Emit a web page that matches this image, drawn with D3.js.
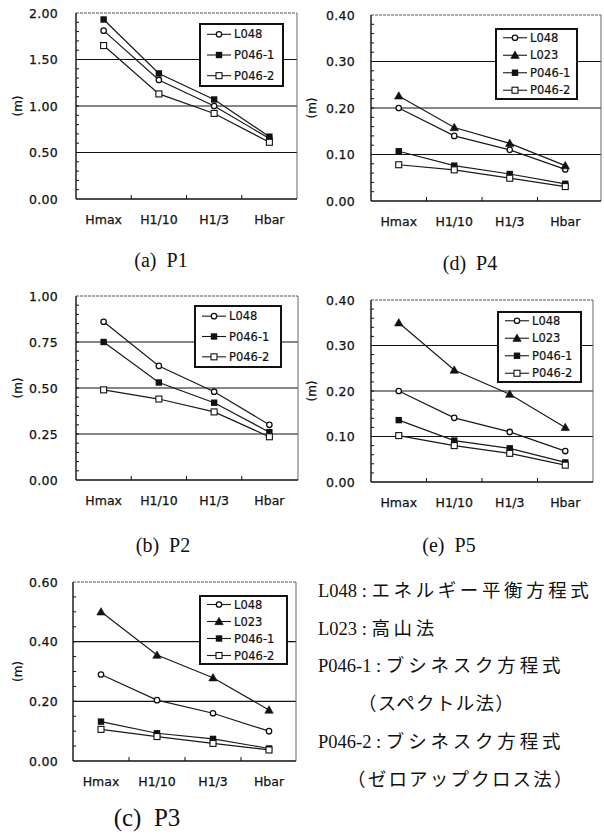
<!DOCTYPE html>
<html>
<head>
<meta charset="utf-8">
<script src="https://cdn.jsdelivr.net/npm/d3@7/dist/d3.min.js"></script>
<style>
  html, body { margin: 0; padding: 0; background: #fff; }
  svg { display: block; }
</style>
</head>
<body>
<svg id="chart" width="604" height="839"></svg>
<script>
// Wave height statistics by method, five points P1–P5
const categories = ["Hmax", "H1/10", "H1/3", "Hbar"];
const seriesNames = ["L048", "L023", "P046-1", "P046-2"];

// P1
const p1L048  = [1.81, 1.28, 1.00, 0.65];
const p1P0461 = [1.93, 1.35, 1.07, 0.67];
const p1P0462 = [1.65, 1.13, 0.92, 0.61];
// P2
const p2L048  = [0.86, 0.62, 0.48, 0.30];
const p2P0461 = [0.75, 0.53, 0.42, 0.26];
const p2P0462 = [0.49, 0.44, 0.37, 0.235];
// P3
const p3L048  = [0.29, 0.204, 0.16, 0.10];
const p3L023  = [0.50, 0.355, 0.279, 0.171];
const p3P0461 = [0.132, 0.093, 0.074, 0.042];
const p3P0462 = [0.106, 0.082, 0.059, 0.037];
// P4
const p4L048  = [0.20, 0.14, 0.11, 0.068];
const p4L023  = [0.226, 0.158, 0.124, 0.076];
const p4P0461 = [0.107, 0.076, 0.058, 0.037];
const p4P0462 = [0.078, 0.067, 0.049, 0.031];
// P5
const p5L048  = [0.20, 0.141, 0.11, 0.068];
const p5L023  = [0.35, 0.246, 0.193, 0.12];
const p5P0461 = [0.136, 0.091, 0.074, 0.043];
const p5P0462 = [0.102, 0.08, 0.063, 0.037];

// y-axis tick values
const ticksP1  = [0, 0.5, 1.0, 1.5, 2.0];
const ticksP2  = [0, 0.25, 0.5, 0.75, 1.0];
const ticksP3  = [0, 0.2, 0.4, 0.6];
const ticksP45 = [0, 0.1, 0.2, 0.3, 0.4];
const minorP1 = 0.1, minorP2 = 0.05, minorP3 = 0.05, minorP45 = 0.02;

const panelTitles = ["(a)  P1", "(b)  P2", "(c)  P3", "(d)  P4", "(e)  P5"];

// explanatory notes: code + description
const noteCodes = ["L048 : ", "L023 : ", "P046-1 : ", "", "P046-2 : ", ""];
const noteTexts = [
  "エネルギー平衡方程式",
  "高山法",
  "ブシネスク方程式",
  "（スペクトル法）",
  "ブシネスク方程式",
  "（ゼロアップクロス法）"
];

const svg = d3.select("#chart");
const sansFont = "'DejaVu Sans', sans-serif";
const serifFont = "'Liberation Serif', 'Noto Sans CJK JP', serif";

const panels = [
  { title: panelTitles[0], ticks: ticksP1, minor: minorP1,
    series: { "L048": p1L048, "P046-1": p1P0461, "P046-2": p1P0462 },
    x0: 76, x1: 297, frameR: 297, top: 13, bottom: 199, labelX: 18,
    titleX: 161, titleY: 267, titleSize: 20,
    legend: { x: 200, y: 24, w: 83, h: 62 } },
  { title: panelTitles[1], ticks: ticksP2, minor: minorP2,
    series: { "L048": p2L048, "P046-1": p2P0461, "P046-2": p2P0462 },
    x0: 76, x1: 297, frameR: 298, top: 296, bottom: 480, labelX: 18,
    titleX: 163, titleY: 552, titleSize: 20,
    legend: { x: 195, y: 306, w: 86, h: 61 } },
  { title: panelTitles[2], ticks: ticksP3, minor: minorP3,
    series: { "L048": p3L048, "L023": p3L023, "P046-1": p3P0461, "P046-2": p3P0462 },
    x0: 73, x1: 297, frameR: 296, top: 582, bottom: 761, labelX: 18,
    titleX: 147, titleY: 826, titleSize: 25,
    legend: { x: 200, y: 596, w: 87, h: 68 } },
  { title: panelTitles[3], ticks: ticksP45, minor: minorP45,
    series: { "L048": p4L048, "L023": p4L023, "P046-1": p4P0461, "P046-2": p4P0462 },
    x0: 371, x1: 593, frameR: 601, top: 15, bottom: 201, labelX: 312,
    titleX: 470, titleY: 270, titleSize: 20,
    legend: { x: 496, y: 29, w: 81, h: 70 } },
  { title: panelTitles[4], ticks: ticksP45, minor: minorP45,
    series: { "L048": p5L048, "L023": p5L023, "P046-1": p5P0461, "P046-2": p5P0462 },
    x0: 371, x1: 593, frameR: 593, top: 300, bottom: 482, labelX: 312,
    titleX: 449, titleY: 552, titleSize: 20,
    legend: { x: 498, y: 312, w: 83, h: 70 } }
];

function drawMarker(g, name, cx, cy) {
  if (name === "L048") {
    g.append("circle").attr("cx", cx).attr("cy", cy).attr("r", 2.7)
      .attr("fill", "#fff").attr("stroke", "#111").attr("stroke-width", 1.3);
  } else if (name === "L023") {
    const s = 4.2;
    g.append("path")
      .attr("d", `M${cx},${cy - s}L${cx + s},${cy + s * 0.75}L${cx - s},${cy + s * 0.75}Z`)
      .attr("fill", "#111").attr("stroke", "#111").attr("stroke-width", 0.6);
  } else if (name === "P046-1") {
    g.append("rect").attr("x", cx - 3.2).attr("y", cy - 3.2).attr("width", 6.4).attr("height", 6.4)
      .attr("fill", "#111");
  } else {
    g.append("rect").attr("x", cx - 3).attr("y", cy - 3).attr("width", 6).attr("height", 6)
      .attr("fill", "#fff").attr("stroke", "#111").attr("stroke-width", 1.1);
  }
}

panels.forEach(p => {
  const g = svg.append("g");
  const yMax = p.ticks[p.ticks.length - 1];
  const x = d3.scaleBand().domain(categories).range([p.x0, p.x1]).padding(0);
  const y = d3.scaleLinear().domain([0, yMax]).range([p.bottom, p.top]);

  // horizontal gridlines at interior major ticks
  g.selectAll(".grid").data(p.ticks.filter(t => t > 0 && t < yMax)).enter()
    .append("line")
    .attr("x1", p.x0).attr("x2", p.frameR)
    .attr("y1", d => y(d)).attr("y2", d => y(d))
    .attr("stroke", "#111").attr("stroke-width", 1.1);

  // frame: light top/right edges, solid left/bottom axes
  g.append("line").attr("x1", p.x0).attr("x2", p.frameR).attr("y1", p.top).attr("y2", p.top)
    .attr("stroke", "#555").attr("stroke-width", 1).attr("stroke-dasharray", "3,1");
  g.append("line").attr("x1", p.frameR).attr("x2", p.frameR).attr("y1", p.top).attr("y2", p.bottom)
    .attr("stroke", "#666").attr("stroke-width", 1);
  g.append("line").attr("x1", p.x0).attr("x2", p.x0).attr("y1", p.top).attr("y2", p.bottom)
    .attr("stroke", "#111").attr("stroke-width", 1.4);
  g.append("line").attr("x1", p.x0).attr("x2", p.frameR).attr("y1", p.bottom).attr("y2", p.bottom)
    .attr("stroke", "#111").attr("stroke-width", 1.4);

  // minor ticks on the value axis
  const nMinor = Math.round(yMax / p.minor);
  g.selectAll(".minor").data(d3.range(1, nMinor)).enter()
    .append("line")
    .attr("x1", p.x0).attr("x2", p.x0 + 3)
    .attr("y1", i => y(i * p.minor)).attr("y2", i => y(i * p.minor))
    .attr("stroke", "#111").attr("stroke-width", 1);

  // category boundary ticks
  g.selectAll(".ctick").data(categories.slice(1)).enter()
    .append("line")
    .attr("x1", d => x(d)).attr("x2", d => x(d))
    .attr("y1", p.bottom).attr("y2", p.bottom - 4)
    .attr("stroke", "#111").attr("stroke-width", 1);

  // value axis labels
  const yAxis = d3.axisLeft(y).tickValues(p.ticks).tickFormat(d3.format(".2f"))
    .tickSize(0).tickPadding(p.x0 > 300 ? 16 : (p.x0 < 75 ? 15 : 18));
  const ya = g.append("g").attr("transform", `translate(${p.x0},0)`).call(yAxis);
  ya.select(".domain").remove();
  ya.selectAll("text").attr("font-family", sansFont).attr("font-size", 12.5)
    .attr("fill", "#111").attr("stroke", "#111").attr("stroke-width", 0.25)
    .attr("letter-spacing", 0.3);

  // category axis labels
  const xAxis = d3.axisBottom(x).tickSize(0).tickPadding(16);
  const xa = g.append("g").attr("transform", `translate(0,${p.bottom})`).call(xAxis);
  xa.select(".domain").remove();
  xa.selectAll("text").attr("font-family", sansFont).attr("font-size", 12.5)
    .attr("fill", "#111").attr("stroke", "#111").attr("stroke-width", 0.25);

  // unit label
  g.append("text")
    .attr("transform", `translate(${p.labelX + 4},${(p.top + p.bottom) / 2}) rotate(-90)`)
    .attr("text-anchor", "middle")
    .attr("font-family", sansFont).attr("font-size", 12).attr("fill", "#111")
    .attr("stroke", "#111").attr("stroke-width", 0.2)
    .text("(m)");

  // series lines and markers
  const line = d3.line().x((d, i) => x(categories[i]) + x.bandwidth() / 2).y(d => y(d));
  const names = seriesNames.filter(n => p.series[n]);
  names.forEach(n => {
    g.append("path").datum(p.series[n]).attr("d", line)
      .attr("fill", "none").attr("stroke", "#1a1a1a").attr("stroke-width", 1.2);
  });
  names.forEach(n => {
    p.series[n].forEach((v, i) => {
      drawMarker(g, n, x(categories[i]) + x.bandwidth() / 2, y(v));
    });
  });

  // legend
  const L = p.legend;
  const lg = g.append("g");
  lg.append("rect").attr("x", L.x).attr("y", L.y).attr("width", L.w).attr("height", L.h)
    .attr("fill", "#fff").attr("stroke", "#111").attr("stroke-width", 2);
  names.forEach((n, i) => {
    const cy = L.y + L.h * (i + 0.5) / names.length;
    lg.append("line").attr("x1", L.x + 7).attr("x2", L.x + 31).attr("y1", cy).attr("y2", cy)
      .attr("stroke", "#1a1a1a").attr("stroke-width", 1.1);
    drawMarker(lg, n, L.x + 19, cy);
    lg.append("text").attr("x", L.x + 34).attr("y", cy).attr("dy", "0.36em")
      .attr("font-family", sansFont).attr("font-size", 11.5).attr("fill", "#111")
      .attr("stroke", "#111").attr("stroke-width", 0.2)
      .text(n);
  });

  // panel caption
  svg.append("text").attr("x", p.titleX).attr("y", p.titleY)
    .attr("text-anchor", "middle")
    .attr("font-family", serifFont).attr("font-size", p.titleSize).attr("fill", "#111")
    .style("white-space", "pre")
    .text(p.title);
});

// method notes
const noteLayout = [
  { x: 318, y: 597, sp: 3.6 },
  { x: 318, y: 635, sp: 3.6 },
  { x: 318, y: 672, sp: 3.8 },
  { x: 358, y: 710, sp: 1.3 },
  { x: 318, y: 748, sp: 3.8 },
  { x: 347, y: 786, sp: 2.2 }
];
noteTexts.forEach((t, i) => {
  const L = noteLayout[i];
  const txt = svg.append("text").attr("x", L.x).attr("y", L.y)
    .attr("font-family", serifFont).attr("font-size", 18.5).attr("fill", "#111")
    .style("white-space", "pre");
  if (noteCodes[i]) txt.append("tspan").text(noteCodes[i]);
  txt.append("tspan").attr("letter-spacing", L.sp).text(t);
});
</script>
</body>
</html>
